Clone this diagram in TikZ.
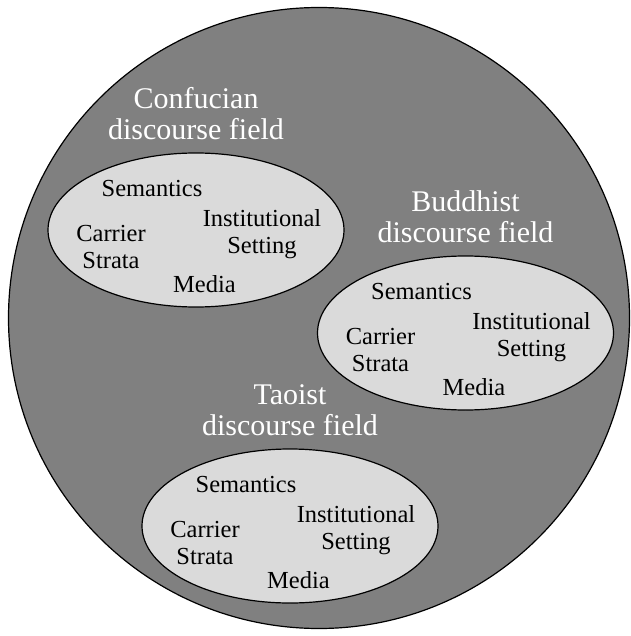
\documentclass[tikz,border=0pt]{standalone}
\usepackage{fontspec}
\setmainfont{Liberation Serif}
\usetikzlibrary{shapes.geometric}
\definecolor{outerfill}{RGB}{128,128,128}
\definecolor{fieldfill}{RGB}{218,218,218}
\tikzset{
  field/.style={draw=black, line width=1.2pt, fill=fieldfill, ellipse,
    minimum width=296pt, minimum height=154pt, inner sep=0pt},
  title/.style={text=white, align=center, anchor=base, inner sep=0pt,
    font=\fontsize{30}{31}\selectfont},
  item/.style={text=black, align=center, anchor=base, inner sep=0pt,
    font=\fontsize{24.5}{27}\selectfont},
}
% a discourse field: ellipse, its title above, and its four components
% (multi-line nodes are placed by the baseline of their last line)
\newcommand{\discoursefield}[3]{%
  \begin{scope}[shift={(#1)}]
    \node[field] (#2-e) at (0,0) {};
    \node[title] (#2-t) at (0,-90.5) {#3\\discourse field};
    \node[item] (#2-sem) at (-44,-33.5) {Semantics};
    \node[item] (#2-ins) at (66,23) {Institutional\\Setting};
    \node[item] (#2-car) at (-85,38) {Carrier\\Strata};
    \node[item] (#2-med) at (8.5,62.5) {Media};
  \end{scope}}
\begin{document}
\begin{tikzpicture}[x=1pt, y=-1pt]
  \useasboundingbox (0,0) rectangle (630,636);
  % the enclosing field
  \node[circle, draw=black, line width=1.2pt, fill=outerfill,
    minimum size=621pt, inner sep=0pt] (whole) at (319,318) {};
  % the three discourse fields
  \discoursefield{196,230}{conf}{Confucian}
  \discoursefield{465.5,333}{budd}{Buddhist}
  \discoursefield{290,526}{tao}{Taoist}
\end{tikzpicture}
\end{document}
